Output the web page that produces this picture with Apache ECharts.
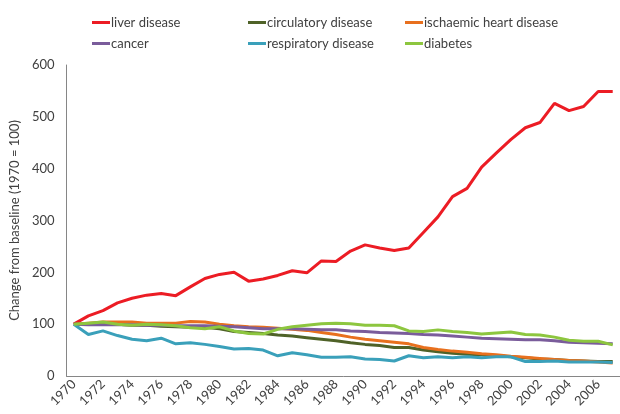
<!DOCTYPE html>
<html>
<head>
<meta charset="utf-8">
<script src="https://cdn.jsdelivr.net/npm/echarts@6/dist/echarts.min.js"></script>
<style>
  html, body { margin: 0; padding: 0; background: #fff; }
  #chart { width: 620px; height: 414px; }
</style>
</head>
<body>
<div id="chart"></div>
<script>
// years 1970..2007
var years = [];
for (var y = 1970; y <= 2007; y++) years.push(String(y));

// values (1970 = 100)
var liver = [100, 116, 126, 141, 150, 156, 159, 155, 172, 188,
  196, 200, 183, 187, 194, 203, 199, 222, 221, 241,
  253, 247, 242, 247, 277, 307, 346, 362, 403, 430,
  456, 479, 489, 526, 512, 520, 549, 549]
var circulatory = [100, 100, 101, 100, 98, 98, 96, 95, 94, 94, 91, 86, 84,
  82, 79, 77, 74, 71, 68, 64, 61, 59, 55, 55, 50,
  47, 44, 42, 41, 39, 37, 35, 33, 32, 30, 29, 28, 28]
var ischaemic = [100, 102, 104, 104, 104, 102, 102, 102, 105, 104, 100, 97, 95,
  94, 92, 90, 88, 84, 80, 75, 71, 68, 65, 62, 55,
  51, 48, 46, 43, 41, 38, 36, 34, 32, 30, 29, 27, 25]
var cancer = [100, 99, 99, 99, 99, 98, 98, 97, 97, 97, 96, 95, 93,
  91, 91, 91, 90, 89, 89, 87, 86, 84, 83, 82, 80,
  79, 77, 75, 73, 72, 71, 70, 70, 68, 65, 64, 63, 62]
var respiratory = [100, 80, 87, 78, 71, 68, 73, 62, 64, 61, 57, 52, 53,
  50, 39, 45, 41, 36, 36, 37, 33, 32, 29, 39, 35,
  37, 35, 37, 35, 37, 37, 28, 28, 29, 27, 27, 27, 26]
var diabetes = [100, 102, 104, 100, 98, 100, 99, 97, 93, 91, 95, 87, 82,
  81, 90, 95, 98, 101, 102, 101, 98, 98, 97, 87, 86,
  89, 86, 84, 81, 83, 85, 80, 79, 75, 69, 67, 67, 60]

var names = ['liver disease', 'circulatory disease', 'ischaemic heart disease',
  'cancer', 'respiratory disease', 'diabetes']
var colors = ['#EC1C24', '#4F6228', '#E8701E', '#7A5C9B', '#3AA0BA', '#8DC63F']
var values = [liver, circulatory, ischaemic, cancer, respiratory, diabetes]

var font = 'Lato, "Open Sans", sans-serif'

function makeLegend (left, items) {
  return {
    orient: 'vertical',
    left: left,
    top: 11,
    itemWidth: 18,
    itemHeight: 3,
    itemGap: 8,
    icon: 'rect',
    data: items,
    textStyle: { fontFamily: font, fontSize: 13, color: '#404040', padding: [0, 0, 0, -4] }
  }
}

var chart = echarts.init(document.getElementById('chart'))
chart.setOption({
  animation: false,
  color: colors,
  legend: [
    makeLegend(87, [names[0], names[3]]),
    makeLegend(243, [names[1], names[4]]),
    makeLegend(400, [names[2], names[5]])
  ],
  grid: {
    left: 65,
    top: 65,
    bottom: 38,
    width: 563
  },
  xAxis: {
    type: 'category',
    data: years,
    boundaryGap: true,
    axisLine: { lineStyle: { color: '#868686', width: 1 } },
    axisTick: { show: false },
    axisLabel: {
      interval: 1,
      rotate: 45,
      margin: 6,
      fontFamily: font,
      fontSize: 13,
      color: '#404040'
    }
  },
  yAxis: {
    type: 'value',
    min: 0,
    max: 600,
    interval: 100,
    name: 'Change from baseline (1970 = 100)',
    nameLocation: 'middle',
    nameRotate: 90,
    nameGap: 41,
    nameTextStyle: { fontFamily: font, fontSize: 13, color: '#404040' },
    axisLine: { show: true, lineStyle: { color: '#868686', width: 1 } },
    axisTick: { show: false },
    splitLine: { show: false },
    axisLabel: { fontFamily: font, fontSize: 13, color: '#404040', margin: 12 }
  },
  series: names.map(function (n, i) {
    return {
      name: n,
      type: 'line',
      data: values[i],
      symbol: 'none',
      lineStyle: { width: 3 }
    }
  })
})
</script>
</body>
</html>
